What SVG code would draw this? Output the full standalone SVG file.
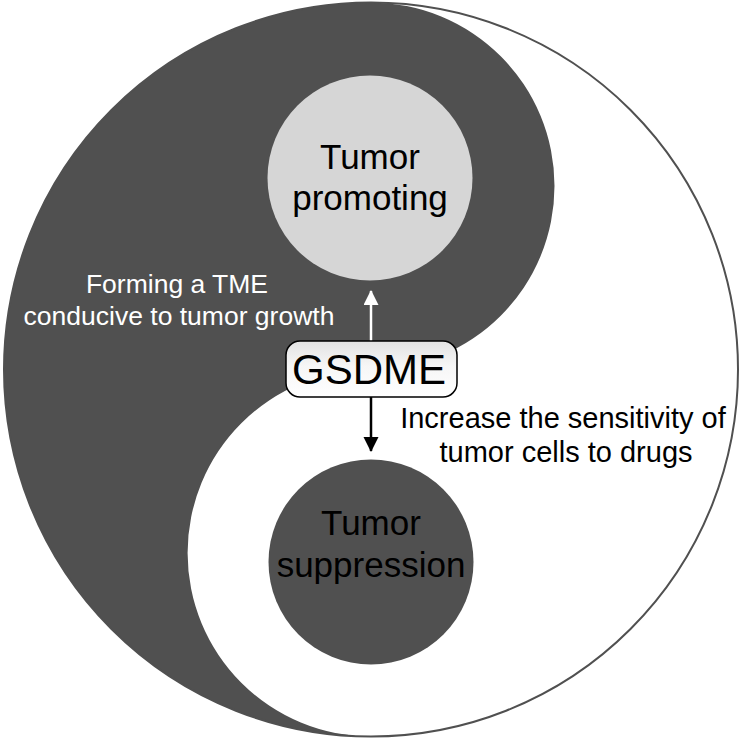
<svg xmlns="http://www.w3.org/2000/svg" width="742" height="738" viewBox="0 0 742 738">
  <style>
    .t { font-family: "Liberation Sans", Arial, sans-serif; text-anchor: middle; }
    .big { font-size: 35px; fill: #000; }
    .lbl { font-size: 29px; }
    .dark { fill: #505050; }
  </style>
  <defs>
    <linearGradient id="boxg" x1="0" y1="0" x2="0" y2="1">
      <stop offset="0" stop-color="#e2e2e2"/>
      <stop offset="0.45" stop-color="#f6f6f6"/>
      <stop offset="1" stop-color="#ffffff"/>
    </linearGradient>
    <marker id="headW" markerUnits="userSpaceOnUse" markerWidth="16" markerHeight="16" refX="14" refY="7.5" orient="auto">
      <path d="M0,0 L15,7.5 L0,15 z" fill="#ffffff"/>
    </marker>
    <marker id="headB" markerUnits="userSpaceOnUse" markerWidth="16" markerHeight="16" refX="14" refY="7.5" orient="auto">
      <path d="M0,0 L15,7.5 L0,15 z" fill="#000000"/>
    </marker>
  </defs>

  <g id="yinyang">
    <rect x="0" y="0" width="742" height="738" fill="#ffffff"/>
    <path class="dark" d="M371,2.5 A367,367 0 0 0 371,736.5 A183.5,183.5 0 0 1 371,369.5 A183.5,183.5 0 0 0 371,2.5 Z"/>
    <circle cx="371" cy="369.5" r="367" fill="none" stroke="#505050" stroke-width="2"/>
  </g>

  <g id="node-promoting">
    <circle cx="370" cy="178" r="102.5" fill="#d6d6d6"/>
    <text class="t big" x="370" y="169">Tumor</text>
    <text class="t big" x="370" y="210">promoting</text>
  </g>

  <g id="node-suppression">
    <circle cx="371" cy="562" r="102.5" fill="#505050"/>
    <text class="t big" x="371" y="535">Tumor</text>
    <text class="t big" x="371" y="577">suppression</text>
  </g>

  <g id="connectors">
    <line x1="371" y1="341" x2="371" y2="291" stroke="#ffffff" stroke-width="2.5" marker-end="url(#headW)"/>
    <line x1="371" y1="397" x2="371" y2="451" stroke="#000000" stroke-width="2.5" marker-end="url(#headB)"/>
  </g>

  <g id="node-gsdme">
    <rect x="286" y="341" width="171" height="56" rx="14" ry="14" fill="url(#boxg)" stroke="#000" stroke-width="1.5"/>
    <text class="t" x="369" y="384" font-size="42" fill="#000">GSDME</text>
  </g>

  <g id="label-left">
    <text class="t" x="177" y="293" fill="#ffffff" font-size="26.5">Forming a TME</text>
    <text class="t" x="179" y="325" fill="#ffffff" font-size="26.5">conducive to tumor growth</text>
  </g>

  <g id="label-right">
    <text class="t lbl" x="563" y="428" fill="#000000">Increase the sensitivity of</text>
    <text class="t lbl" x="566" y="462" fill="#000000">tumor cells to drugs</text>
  </g>
</svg>
